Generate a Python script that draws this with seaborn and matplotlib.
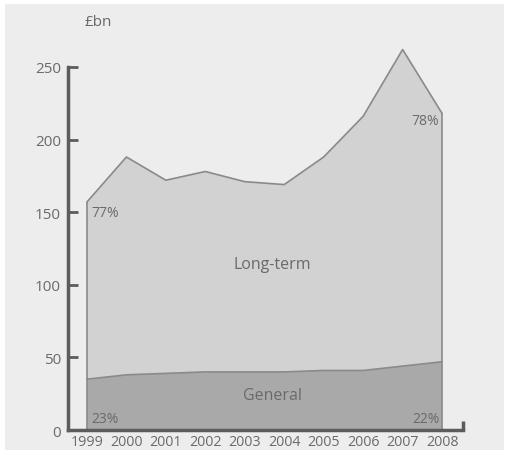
import matplotlib
matplotlib.use('Agg')
import matplotlib.pyplot as plt
import seaborn as sns
from matplotlib.patches import Rectangle

# Data (£bn)
years = [1999, 2000, 2001, 2002, 2003, 2004, 2005, 2006, 2007, 2008]
total = [157, 188, 172, 178, 171, 169, 188, 216, 262, 218]
general = [35, 38, 39, 40, 40, 40, 41, 41, 44, 47]
long_term = [t - g for t, g in zip(total, general)]

sns.set_style('white')
plt.rcParams['font.family'] = ['Open Sans', 'DejaVu Sans']

text_col = '#6a6a6a'
spine_col = '#5c5c5c'

fig = plt.figure(figsize=(5.09, 4.56), dpi=100)
fig.patch.set_facecolor('white')
fig.patches.append(Rectangle((0.01, 0.012), 0.98, 0.976, transform=fig.transFigure,
                             facecolor='#ededed', edgecolor='none', zorder=-10))

ax = fig.add_axes([0.1336, 0.0548, 0.776, 0.844])
ax.set_facecolor('none')

ax.stackplot(years, general, long_term, colors=['#a9a9a9', '#d2d2d2'],
             edgecolor='none')
sns.lineplot(x=years, y=general, ax=ax, color='#8a8a8a', lw=1.2)
sns.lineplot(x=years, y=total, ax=ax, color='#8a8a8a', lw=1.2)
ax.vlines([years[0], years[-1]], 0, [total[0], total[-1]], color='#8a8a8a', lw=1.2)

ax.set_xlim(1998.52, 2008.53)
ax.set_ylim(0, 265)
ax.set_xticks(years)
ax.set_xticklabels([str(y) for y in years])
ax.set_yticks([0, 50, 100, 150, 200, 250])

for s in ['top', 'right']:
    ax.spines[s].set_visible(False)
ax.spines['left'].set_bounds(0, 250)
ax.spines['left'].set_color(spine_col)
ax.spines['left'].set_linewidth(2.5)
ax.spines['bottom'].set_color(spine_col)
ax.spines['bottom'].set_linewidth(2.5)
ax.tick_params(axis='y', left=True, direction='in', length=7, width=2, color=spine_col,
               labelcolor=text_col, labelsize=11, pad=5)
ax.tick_params(axis='x', bottom=False, length=0, labelcolor=text_col, labelsize=10.3, pad=3)
# small upward tick at right end of x axis
ax.plot([2008.53, 2008.53], [0, 6], color=spine_col, lw=2.5, clip_on=False,
        solid_capstyle='butt')

ax.text(1999.1, 150, '77%', color=text_col, fontsize=10, va='center', ha='left')
ax.text(2007.93, 213, '78%', color=text_col, fontsize=10, va='center', ha='right')
ax.text(1999.1, 8, '23%', color=text_col, fontsize=10, va='center', ha='left')
ax.text(2007.93, 8, '22%', color=text_col, fontsize=10, va='center', ha='right')
ax.text(2003.7, 114, 'Long-term', color=text_col, fontsize=11.5, ha='center', va='center')
ax.text(2003.7, 24, 'General', color=text_col, fontsize=11.5, ha='center', va='center')

fig.text(0.166, 0.95, '£bn', color=text_col, fontsize=11, ha='left', va='center')

fig.savefig('out.png', dpi=100)
